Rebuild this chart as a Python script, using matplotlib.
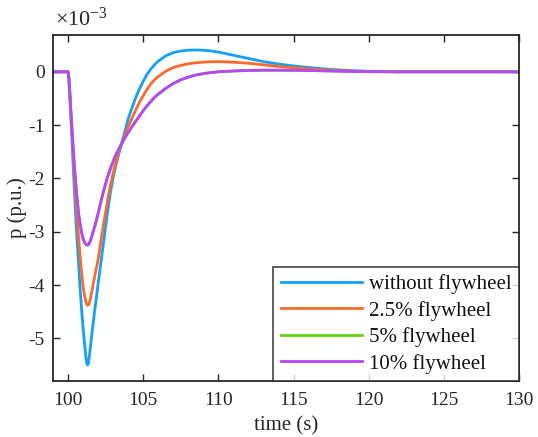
import matplotlib
matplotlib.use("Agg")
import matplotlib.pyplot as plt
import numpy as np

plt.rcParams['font.family'] = ['Liberation Serif', 'DejaVu Serif']
plt.rcParams['mathtext.fontset'] = 'custom'
plt.rcParams['mathtext.rm'] = 'Liberation Serif'
plt.rcParams['mathtext.it'] = 'Liberation Serif:italic'
plt.rcParams['axes.unicode_minus'] = False

# time (s)
t = [99.0, 100.0, 100.05,
     100.1, 100.2, 100.3, 100.4, 100.5, 100.6, 100.7, 100.8, 100.9, 101.0,
     101.1, 101.2, 101.25, 101.3, 101.35, 101.4, 101.5, 101.6, 101.7, 101.8, 101.9, 102.0,
     102.2, 102.4, 102.6, 102.8, 103.0, 103.2, 103.4, 103.6, 103.8, 104.0,
     104.25, 104.5, 104.75, 105.0, 105.25, 105.5, 105.75, 106.0,
     106.5, 107.0, 107.5, 108.0, 108.5, 109.0, 109.5, 110.0,
     111.0, 112.0, 113.0, 114.0, 115.0, 116.0, 117.0, 118.0, 119.0, 120.0,
     122.0, 125.0, 130.0]

# p (p.u.) in units of 1e-3
p_without = [0, 0, -0.1,
             -0.35, -0.9, -1.5, -2.1, -2.65, -3.15, -3.6, -4.05, -4.45, -4.8,
             -5.1, -5.38, -5.47, -5.5, -5.47, -5.38, -5.13, -4.88, -4.65, -4.42, -4.2, -3.98,
             -3.55, -3.12, -2.68, -2.3, -1.98, -1.73, -1.52, -1.3, -1.1, -0.88,
             -0.68, -0.49, -0.32, -0.18, -0.05, 0.05, 0.13, 0.2,
             0.3, 0.36, 0.39, 0.405, 0.41, 0.405, 0.39, 0.37,
             0.31, 0.25, 0.19, 0.145, 0.11, 0.08, 0.055, 0.035, 0.02, 0.01,
             0.0, 0.0, 0.0]
p_2_5 = [0, 0, -0.1,
         -0.33, -0.85, -1.35, -1.85, -2.3, -2.7, -3.1, -3.45, -3.77, -4.03,
         -4.2, -4.33, -4.365, -4.38, -4.375, -4.35, -4.24, -4.1, -3.95, -3.8, -3.66, -3.52,
         -3.15, -2.8, -2.47, -2.16, -1.9, -1.68, -1.48, -1.32, -1.17, -1.03,
         -0.87, -0.72, -0.57, -0.45, -0.33, -0.23, -0.15, -0.09,
         0.01, 0.08, 0.12, 0.15, 0.17, 0.18, 0.188, 0.19,
         0.18, 0.16, 0.13, 0.1, 0.075, 0.055, 0.038, 0.025, 0.012, 0.005,
         0.0, 0.0, 0.0]
p_5 = [0, 0, -0.1,
       -0.3, -0.8, -1.25, -1.68, -2.05, -2.38, -2.65, -2.85, -3.02, -3.13,
       -3.2, -3.24, -3.248, -3.25, -3.245, -3.225, -3.16, -3.07, -2.97, -2.88, -2.77, -2.66,
       -2.42, -2.2, -2.0, -1.83, -1.68, -1.55, -1.44, -1.33, -1.23, -1.14,
       -1.03, -0.93, -0.83, -0.73, -0.64, -0.56, -0.48, -0.42,
       -0.31, -0.22, -0.15, -0.1, -0.06, -0.035, -0.015, 0.0,
       0.015, 0.025, 0.03, 0.03, 0.028, 0.024, 0.018, 0.012, 0.006, 0.002,
       0.0, 0.0, 0.0]
p_10 = [0, 0, -0.1,
        -0.3, -0.8, -1.25, -1.68, -2.05, -2.38, -2.65, -2.85, -3.02, -3.13,
        -3.2, -3.24, -3.248, -3.25, -3.245, -3.225, -3.16, -3.07, -2.97, -2.88, -2.77, -2.66,
        -2.42, -2.2, -2.0, -1.83, -1.68, -1.55, -1.44, -1.33, -1.23, -1.14,
        -1.03, -0.93, -0.83, -0.73, -0.64, -0.56, -0.48, -0.42,
        -0.31, -0.22, -0.15, -0.1, -0.06, -0.035, -0.015, 0.0,
        0.015, 0.025, 0.03, 0.03, 0.028, 0.024, 0.018, 0.012, 0.006, 0.002,
        0.0, 0.0, 0.0]

labels = ['without flywheel', '2.5% flywheel', '5% flywheel', '10% flywheel']
colors = ['#12A0FF', '#FF6929', '#64D412', '#B845FF']
xticks = [100, 105, 110, 115, 120, 125, 130]
yticks = [-5, -4, -3, -2, -1, 0]

fig = plt.figure(figsize=(5.38, 4.37), dpi=100)
ax = fig.add_axes([53/538, 1-381/437, (519-53)/538, (381-35)/437])

for y, c, lab in zip([p_without, p_2_5, p_5, p_10], colors, labels):
    ax.plot(t, y, color=c, lw=2.0, label=lab, solid_joinstyle='round')

ax.set_xlim(99, 130)
ax.set_ylim(-5.8, 0.69)
ax.set_xticks(xticks)
ax.set_yticks(yticks)
ax.set_yticklabels([str(v) for v in yticks])

edge = '#262626'
for s in ax.spines.values():
    s.set_color(edge)
    s.set_linewidth(1.3)
ax.tick_params(direction='in', length=5, width=1.0, color=edge, labelcolor=edge,
               labelsize=14, top=True, right=True)
ax.tick_params(axis='x', pad=8)
ax.tick_params(axis='y', pad=6)

ax.set_xlabel('time (s)', fontsize=15, color=edge, labelpad=5)
ax.set_ylabel('p (p.u.)', fontsize=15, color=edge, labelpad=1)

ax.text(0.004, 1.012, r'$\times\mathregular{10^{-3}}$', transform=ax.transAxes,
        fontsize=16, color=edge, ha='left', va='bottom')

leg = ax.legend(loc='lower right', bbox_to_anchor=(1.0, 0.0), borderaxespad=0,
                fontsize=15, frameon=True, fancybox=False, handlelength=3.9,
                handletextpad=0.35, labelspacing=0.32, borderpad=0.35)
leg.get_frame().set_edgecolor(edge)
leg.get_frame().set_linewidth(1.3)
for txt in leg.get_texts():
    txt.set_color('#111111')

fig.savefig('out.png', dpi=100, facecolor='white')
